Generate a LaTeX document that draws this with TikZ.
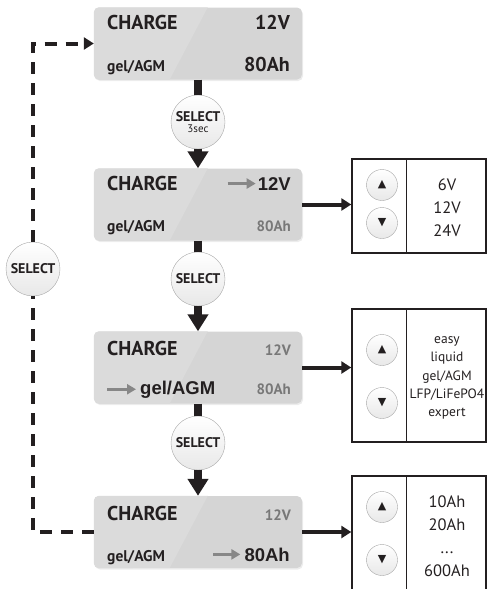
\documentclass[tikz,border=0pt]{standalone}
\usepackage{fontspec}
\setmainfont{PT Sans}
\newfontfamily\arialfont{Liberation Sans}
\newfontfamily\symfont{DejaVu Sans}
\usetikzlibrary{arrows.meta,shadows}

\definecolor{ink}{RGB}{35,31,32}
\definecolor{lcdgray}{RGB}{213,213,213}
\definecolor{lcdlight}{RGB}{219,219,219}
\definecolor{dimgray}{RGB}{120,120,120}
\definecolor{ptrgray}{RGB}{135,135,135}

\begin{document}
\begin{tikzpicture}[x=1pt,y=-1pt,
        display/.style={rounded corners=5pt,fill=lcdgray,minimum width=208pt,minimum height=72pt,inner sep=0pt,
            drop shadow={opacity=0.15,shadow xshift=1pt,shadow yshift=-1.5pt}},
        selbtn/.style={circle,draw=gray!70,top color=white,bottom color=gray!18,minimum size=54pt,inner sep=0pt,
            align=center,text=ink,font=\fontsize{14}{14}\selectfont\bfseries},
        updown/.style={circle,draw=gray!70,top color=white,bottom color=gray!18,minimum size=31pt,inner sep=0pt,
            text=ink,font=\symfont\fontsize{11}{11}\selectfont},
        listbox/.style={draw=ink,line width=1.4pt,minimum width=134pt,inner sep=0pt},
        head/.style={text=ink,inner sep=0pt,font=\fontsize{20}{20}\selectfont\bfseries},
        big/.style={text=ink,inner sep=0pt,font=\fontsize{20}{20}\selectfont\bfseries},
        small/.style={text=ink,inner sep=0pt,font=\fontsize{15.5}{15.5}\selectfont\bfseries},
        dim/.style={text=dimgray,inner sep=0pt,font=\fontsize{15}{15}\selectfont\bfseries},
        hilite/.style={text=ink,inner sep=0pt,font=\arialfont\fontsize{18.5}{18.5}\selectfont\bfseries},
        pointer/.style={draw=ptrgray,line width=3.5pt,-{Triangle[length=9pt,width=10pt]}},
        stem/.style={draw=ink,line width=8pt},
        link/.style={draw=ink,line width=4pt,-{Triangle[length=10pt,width=12pt]}},
        backline/.style={draw=ink,line width=4pt,dash pattern=on 12pt off 9pt},
        listtxt/.style={text=ink,align=center,inner sep=0pt},
    ]
    \useasboundingbox (0,0) rectangle (487,589);
    \clip (0,0) rectangle (487,589);

    \foreach \i/\y/\b in {1/43.5/29,2/204.5/190,3/367.5/355,4/532/520}{
        \node[display] (disp\i) at (198,\y) {};
        \begin{scope}
            \clip[rounded corners=5pt] (disp\i.north west) rectangle (disp\i.south east);
            \fill[lcdlight] (disp\i.north west) -- ++(114,0) -- ++(-38,72) -- (disp\i.south west) -- cycle;
        \end{scope}
        \node[head,anchor=base west] (chg\i) at (107,\b) {CHARGE};
    }

    % display 1
    \node[big,anchor=base east] (volt1) at (290,29) {12V};
    \node[small,anchor=base west] (type1) at (107,71) {gel/AGM};
    \node[big,anchor=base east] (cap1) at (290,71) {80Ah};
    % display 2
    \node[hilite,anchor=base east] (volt2) at (291,190) {12V};
    \draw[pointer] ([xshift=-30pt]volt2.west) -- ([xshift=-2pt]volt2.west);
    \node[small,anchor=base west] (type2) at (107,231) {gel/AGM};
    \node[dim,anchor=base east] (cap2) at (291,231) {80Ah};
    % display 3
    \node[dim,anchor=base east] (volt3) at (291,355) {12V};
    \node[hilite,anchor=base west] (type3) at (140,394) {gel/AGM};
    \draw[pointer] ([xshift=-33pt]type3.west) -- ([xshift=-4pt]type3.west);
    \node[dim,anchor=base east] (cap3) at (291,394) {80Ah};
    % display 4
    \node[dim,anchor=base east] (volt4) at (291,520) {12V};
    \node[small,anchor=base west] (type4) at (107,561) {gel/AGM};
    \node[hilite,anchor=base east] (cap4) at (290,561) {80Ah};
    \draw[pointer] ([xshift=-31pt]cap4.west) -- ([xshift=-4pt]cap4.west);

    \node[selbtn] (sel1) at (198,122) {SELECT\\[-3pt]{\fontsize{11}{11}\selectfont\mdseries 3sec}};
    \node[selbtn] (sel2) at (198,279) {SELECT};
    \node[selbtn] (sel3) at (198,443) {SELECT};
    \node[selbtn] (selback) at (33,269) {SELECT};

    \draw[stem] (disp1) -- (sel1);
    \draw[stem,-{Triangle[length=17pt,width=20pt]}] (sel1) -- (disp2);
    \draw[stem] (disp2) -- (sel2);
    \draw[stem,-{Triangle[length=17pt,width=20pt]}] (sel2) -- (disp3);
    \draw[stem] (disp3) -- (sel3);
    \draw[stem,-{Triangle[length=17pt,width=20pt]}] (sel3) -- (disp4);

    \draw[backline] (disp4.west) -| (selback);
    \draw[backline,-{Triangle[length=10pt,width=12pt]}] (selback) |- (disp1.west);

    % voltage list
    \node[listbox,minimum height=94pt] (list1) at (419,206) {};
    \draw[line width=1.4pt,ink] ([xshift=55pt]list1.north west) -- ([xshift=55pt]list1.south west);
    \node[updown] (up1) at (382,185) {▲};
    \node[updown] (down1) at (382,223) {▼};
    \node[listtxt,font=\fontsize{16.5}{23}\selectfont] (vals1) at (447,208) {6V\\12V\\24V};
    % battery type list
    \node[listbox,minimum height=133pt] (list2) at (419,375.5) {};
    \draw[line width=1.4pt,ink] ([xshift=55pt]list2.north west) -- ([xshift=55pt]list2.south west);
    \node[updown] (up2) at (382,350) {▲};
    \node[updown] (down2) at (382,403) {▼};
    \node[listtxt,font=\fontsize{13.5}{18.3}\selectfont] (vals2) at (447,378) {easy\\liquid\\gel/AGM\\LFP/LiFePO4\\expert};
    % capacity list
    \node[listbox,minimum height=124pt] (list3) at (419,538) {};
    \draw[line width=1.4pt,ink] ([xshift=55pt]list3.north west) -- ([xshift=55pt]list3.south west);
    \node[updown] (up3) at (382,507) {▲};
    \node[updown] (down3) at (382,560) {▼};
    \node[listtxt,font=\fontsize{16.5}{23}\selectfont] (vals3) at (447,536) {10Ah\\20Ah\\...\\600Ah};

    \draw[link] (disp2.east) -- (disp2.east -| list1.west);
    \draw[link] (disp3.east) -- (disp3.east -| list2.west);
    \draw[link] (disp4.east) -- (disp4.east -| list3.west);
\end{tikzpicture}
\end{document}
